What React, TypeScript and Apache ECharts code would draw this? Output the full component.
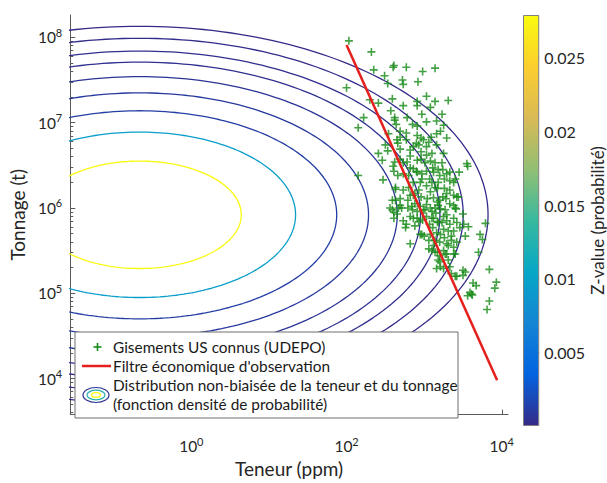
import React, { useEffect, useRef } from "react";
import * as echarts from "echarts";

// ---- DATA (values are log10 of grade in ppm and of tonnage in t) ----
const xTickExponents = [0, 2, 4];
const yTickExponents = [4, 5, 6, 7, 8];
const xRange = [-1.56, 4.08];
const yRange = [3.577, 8.263];

// UDEPO deposits: [log10 grade (ppm), log10 tonnage (t)]
const udepoDeposits: [number, number][] = [
  [2.03,7.96],[2.32,7.83],[2.35,7.62],[2.61,7.67],[2.60,7.65],[2.77,7.65],[2.98,7.60],[3.14,7.64],
  [2.49,7.55],[2.53,7.46],[2.72,7.50],[2.73,7.45],[2.92,7.48],[2.00,7.41],[2.30,7.27],[2.41,7.23],
  [2.59,7.28],[2.73,7.20],[2.91,7.25],[2.91,7.20],[3.14,7.25],[3.31,7.26],[2.22,7.06],[2.15,6.94],
  [2.57,7.14],[2.62,7.06],[2.64,6.98],[2.62,7.03],[2.85,6.98],[2.91,6.96],[3.03,7.01],[3.16,7.02],
  [3.25,6.97],[2.69,6.90],[2.77,6.88],[2.91,6.85],[2.96,6.82],[2.99,6.80],[3.06,6.77],[3.09,6.83],
  [3.16,6.87],[3.21,6.90],[3.29,6.82],[2.50,6.74],[2.53,6.67],[2.65,6.80],[2.66,6.76],[2.69,6.69],
  [2.82,6.68],[2.90,6.76],[2.93,6.74],[3.03,6.72],[3.16,6.74],[3.25,6.64],[3.10,6.64],[2.82,6.61],
  [2.46,6.56],[2.62,6.54],[2.60,6.49],[2.61,6.43],[2.69,6.57],[2.78,6.54],[2.91,6.56],[2.96,6.57],
  [3.01,6.53],[3.08,6.55],[3.14,6.53],[3.18,6.45],[3.24,6.45],[3.33,6.42],[3.45,6.42],[3.55,6.52],
  [3.56,6.49],[2.15,6.38],[2.47,6.33],[2.63,6.24],[2.66,6.38],[2.73,6.40],[2.80,6.38],[2.86,6.46],
  [2.90,6.43],[2.91,6.42],[2.97,6.40],[3.03,6.43],[3.07,6.34],[3.12,6.42],[3.20,6.38],[3.26,6.34],
  [3.33,6.32],[3.38,6.30],[3.40,6.34],[3.03,6.26],[3.14,6.24],[3.17,6.23],[3.26,6.23],[3.33,6.21],
  [3.38,6.15],[3.42,6.13],[2.59,6.09],[2.69,6.11],[2.79,6.09],[2.82,6.15],[2.88,6.17],[2.96,6.13],
  [3.04,6.11],[3.12,6.12],[3.17,6.07],[3.24,6.13],[3.28,6.11],[2.59,5.98],[2.61,5.95],[2.65,5.93],
  [2.71,6.00],[2.79,6.00],[2.85,5.98],[2.91,5.96],[2.95,6.02],[3.01,5.98],[3.08,6.00],[3.10,5.96],
  [3.15,5.94],[3.21,5.99],[3.29,5.92],[3.38,6.03],[3.41,5.99],[3.50,5.93],[2.73,5.85],[2.77,5.81],
  [2.86,5.88],[2.93,5.84],[2.98,5.86],[3.07,5.81],[3.12,5.88],[3.17,5.84],[3.23,5.83],[3.29,5.85],
  [3.33,5.81],[3.42,5.83],[3.46,5.77],[3.51,5.81],[3.57,5.78],[3.79,5.82],[2.82,5.58],[2.95,5.69],
  [3.00,5.67],[3.06,5.62],[3.14,5.62],[3.21,5.69],[3.26,5.65],[3.29,5.58],[3.35,5.62],[3.42,5.60],
  [3.06,5.52],[3.10,5.50],[3.17,5.48],[3.25,5.50],[3.29,5.46],[3.40,5.46],[3.72,5.69],[3.75,5.63],
  [3.70,5.48],[3.18,5.39],[3.21,5.31],[3.25,5.29],[3.33,5.31],[3.35,5.23],[3.42,5.20],[3.50,5.27],
  [3.53,5.25],[3.63,5.12],[3.67,5.09],[3.59,5.01],[3.56,4.97],[3.62,4.98],[3.84,5.28],[3.93,5.13],
  [3.91,5.06],[3.84,4.91],[3.81,4.81],
  [2.63,6.22],[2.73,6.21],[2.86,6.30],[2.97,6.34],[3.18,6.30],[2.63,6.09],[2.86,6.15],[3.20,6.09],
  [3.44,6.13],[2.56,6.00],[2.67,6.00],[2.84,6.02],[2.99,5.98],[3.14,6.00],[3.27,5.98],[3.40,6.00],
  [2.61,5.88],[2.91,5.88],[3.10,5.88],[3.18,5.83],[2.76,5.77],[2.97,5.69],[3.16,5.71],[3.31,5.73],
  [3.53,5.67],[3.20,5.60],[3.31,5.56],[3.14,5.48],[3.27,5.46],[3.38,5.46],[3.20,5.37],[3.16,5.29],
  [3.40,5.20],[3.50,5.21],[3.61,4.99],
  [2.69,6.83],[2.77,6.80],[2.86,6.72],[2.96,6.66],[3.03,6.62],[2.73,6.53],[2.82,6.47],[3.11,6.47],
  [3.23,6.53],[3.29,6.40],[2.95,6.30],[3.10,6.30],[2.80,6.24],[2.93,6.21],[3.08,6.19],[3.29,6.17],
  [2.69,6.03],[2.88,6.05],[3.03,6.04],[3.18,6.03],[3.33,6.05],[2.82,5.90],[3.03,5.90],[3.25,5.90],
  [3.38,5.88],[2.88,5.79],[3.11,5.77],[3.25,5.75],[3.38,5.73],[3.08,5.69],[3.35,5.67],[3.12,5.56],
  [3.38,5.54],[3.20,5.44],[3.31,5.39],[2.41,6.64],[2.54,6.87],[2.78,7.06],[2.97,7.10],[3.08,7.18],
  [3.23,7.10],[3.03,7.31],
];

// Economic observation filter (log10 grade, log10 tonnage)
const filterLogGrade = [2.0, 3.94];
const filterLogTonnage = [7.91, 3.98];

// Unbiased PDF contours (axis-aligned ellipses in log-log space)
const pdfCenter = [-0.667, 5.92];
const contourLevels = [0.0279, 0.0095, 0.0012, 0.0009, 0.0006, 0.0004, 0.00025, 0.00015, 0.00008];
const contourSemiAxisGrade = [1.31, 2.01, 2.54, 2.95, 3.32, 3.62, 3.87, 4.17, 4.49];
const contourSemiAxisTonnage = [0.63, 0.97, 1.22, 1.43, 1.62, 1.79, 1.92, 2.07, 2.21];

const colorbarTicks = [0.005, 0.01, 0.015, 0.02, 0.025];
const colorbarMax = 0.0279;

// ---- helpers ----
const PARULA = ["#352a87", "#0363e1", "#1485d4", "#06a7c6", "#38b99e", "#92bf73", "#d9ba56", "#fcce2e", "#f9fb0e"];
function hexToRgb(h: string) {
  const n = parseInt(h.slice(1), 16);
  return [(n >> 16) & 255, (n >> 8) & 255, n & 255];
}
function parula(t: number): string {
  const c = Math.min(1, Math.max(0, t)) * (PARULA.length - 1);
  const i = Math.min(PARULA.length - 2, Math.floor(c));
  const f = c - i;
  const a = hexToRgb(PARULA[i]);
  const b = hexToRgb(PARULA[i + 1]);
  const m = a.map((v, k) => Math.round(v + (b[k] - v) * f));
  return `rgb(${m[0]},${m[1]},${m[2]})`;
}
function ellipse(i: number) {
  const pts: number[][] = [];
  const n = 240;
  for (let k = 0; k <= n; k++) {
    const th = (2 * Math.PI * k) / n;
    pts.push([
      pdfCenter[0] + contourSemiAxisGrade[i] * Math.cos(th),
      pdfCenter[1] + contourSemiAxisTonnage[i] * Math.sin(th),
    ]);
  }
  return pts;
}

const minorY: number[] = [];
for (let e = 3; e <= 8; e++) {
  for (let k = 2; k <= 9; k++) {
    const v = e + Math.log10(k);
    if (v > yRange[0] && v < yRange[1]) minorY.push(v);
  }
}

const FONT = "Lato";
const TXT = "#262626";
const AX = "#5a5a5a";
const powRich = {
  b: { fontSize: 15.5, fontFamily: FONT, color: TXT },
  s: { fontSize: 11, fontFamily: FONT, color: TXT, padding: [0, 0, 10, 0] },
};
const powFmt = (v: number) => `{b|10}{s|${Math.round(v)}}`;

export default function App() {
  const ref = useRef<HTMLDivElement>(null);
  useEffect(() => {
    if (!ref.current) return;
    const chart = echarts.init(ref.current, undefined, { renderer: "svg" });
    const contourSeries = contourLevels.map((lvl, i) => ({
      type: "line",
      xAxisIndex: 0,
      yAxisIndex: 0,
      data: ellipse(i),
      showSymbol: false,
      symbol: "none",
      silent: true,
      clip: true,
      z: 1,
      lineStyle: { color: parula(lvl / colorbarMax), width: 1.3 },
    }));
    const gradStops = PARULA.map((c, k) => ({ offset: 1 - k / (PARULA.length - 1), color: c })).reverse();
    const LT = { fontSize: 15.4, fontFamily: FONT, fill: "#1a1a1a", verticalAlign: "middle" };
    chart.setOption({
      animation: false,
      backgroundColor: "#ffffff",
      textStyle: { fontFamily: FONT },
      grid: [
        { left: 68, top: 15, width: 440, height: 410 },
        { left: 523, top: 15, width: 20, height: 411 },
      ],
      xAxis: [
        {
          type: "value",
          gridIndex: 0,
          min: xRange[0],
          max: xRange[1],
          axisLine: { show: true, onZero: false, lineStyle: { color: AX, width: 1 } },
          axisTick: { show: true, inside: true, length: 5, customValues: xTickExponents, lineStyle: { color: AX } },
          axisLabel: { customValues: xTickExponents, formatter: powFmt, rich: powRich, margin: 21 },
          splitLine: { show: false },
          name: "Teneur (ppm)",
          nameLocation: "middle",
          nameGap: 41,
          nameTextStyle: { fontSize: 19, fontFamily: FONT, color: TXT },
        },
        { type: "category", gridIndex: 1, data: ["z"], show: false },
      ],
      yAxis: [
        {
          type: "value",
          gridIndex: 0,
          min: yRange[0],
          max: yRange[1],
          axisLine: { show: true, onZero: false, lineStyle: { color: AX, width: 1 } },
          axisTick: { show: true, inside: true, length: 5, customValues: yTickExponents, lineStyle: { color: AX } },
          axisLabel: { customValues: yTickExponents, formatter: powFmt, rich: powRich, margin: 8 },
          splitLine: { show: false },
          name: "Tonnage (t)",
          nameLocation: "middle",
          nameGap: 33,
          nameTextStyle: { fontSize: 19, fontFamily: FONT, color: TXT },
        },
        {
          type: "value",
          gridIndex: 0,
          position: "left",
          min: yRange[0],
          max: yRange[1],
          axisLine: { show: false, onZero: false },
          axisTick: { show: true, inside: true, length: 3, customValues: minorY, lineStyle: { color: AX } },
          axisLabel: { show: false },
          splitLine: { show: false },
        },
        {
          type: "value",
          gridIndex: 1,
          position: "right",
          min: 0,
          max: colorbarMax,
          axisLine: { show: false },
          axisTick: { show: true, inside: true, length: 4, customValues: colorbarTicks, lineStyle: { color: "#777" } },
          axisLabel: {
            customValues: colorbarTicks,
            formatter: (v: number) => String(v),
            fontSize: 16,
            fontFamily: FONT,
            color: TXT,
            margin: 5,
          },
          splitLine: { show: false },
          name: "Z-value (probabilité)",
          nameLocation: "middle",
          nameRotate: 90,
          nameGap: 46,
          nameTextStyle: { fontSize: 17, fontFamily: FONT, color: TXT },
        },
      ],
      series: [
        ...contourSeries,
        {
          type: "scatter",
          xAxisIndex: 0,
          yAxisIndex: 0,
          data: udepoDeposits,
          symbol: "path://M4,0h2v4h4v2h-4v4h-2v-4h-4v-2h4z",
          symbolSize: 8,
          itemStyle: { color: "#168a16" },
          silent: true,
          z: 3,
        },
        {
          type: "line",
          xAxisIndex: 0,
          yAxisIndex: 0,
          data: filterLogGrade.map((g, i) => [g, filterLogTonnage[i]]),
          showSymbol: false,
          symbol: "none",
          silent: true,
          z: 4,
          lineStyle: { color: "#e41f1c", width: 2.5 },
        },
        {
          type: "bar",
          xAxisIndex: 1,
          yAxisIndex: 2,
          data: [colorbarMax],
          barWidth: "100%",
          silent: true,
          itemStyle: {
            color: new echarts.graphic.LinearGradient(0, 0, 0, 1, gradStops),
            borderColor: "#808080",
            borderWidth: 1,
          },
        },
      ],
      graphic: [
        { type: "rect", z: 100, shape: { x: 75, y: 332, width: 383, height: 86 }, style: { fill: "#ffffff", stroke: "#6e6e6e", lineWidth: 1 } },
        { type: "line", z: 101, shape: { x1: 93.5, y1: 347, x2: 101.5, y2: 347 }, style: { stroke: "#168a16", lineWidth: 1.6 } },
        { type: "line", z: 101, shape: { x1: 97.5, y1: 343, x2: 97.5, y2: 351 }, style: { stroke: "#168a16", lineWidth: 1.6 } },
        { type: "text", z: 101, x: 113, y: 347, style: { ...LT, text: "Gisements US connus (UDEPO)" } },
        { type: "line", z: 101, shape: { x1: 82, y1: 366, x2: 111, y2: 366 }, style: { stroke: "#e41f1c", lineWidth: 2.5 } },
        { type: "text", z: 101, x: 113, y: 366, style: { ...LT, text: "Filtre économique d'observation" } },
        { type: "ellipse", z: 101, shape: { cx: 96, cy: 395, rx: 13, ry: 7.5 }, style: { fill: "none", stroke: parula(0.02), lineWidth: 1.2 } },
        { type: "ellipse", z: 101, shape: { cx: 96, cy: 395, rx: 9, ry: 4.8 }, style: { fill: "none", stroke: parula(0.45), lineWidth: 1.2 } },
        { type: "ellipse", z: 101, shape: { cx: 96, cy: 395, rx: 4.5, ry: 2.3 }, style: { fill: "none", stroke: parula(1), lineWidth: 1.2 } },
        { type: "text", z: 101, x: 113, y: 385, style: { ...LT, text: "Distribution non-biaisée de la teneur et du tonnage" } },
        { type: "text", z: 101, x: 113, y: 404, style: { ...LT, text: "(fonction densité de probabilité)" } },
      ],
    });
    return () => chart.dispose();
  }, []);
  return <div ref={ref} style={{ position: "fixed", left: 0, top: 0, width: 607, height: 483, background: "#fff" }} />;
}
